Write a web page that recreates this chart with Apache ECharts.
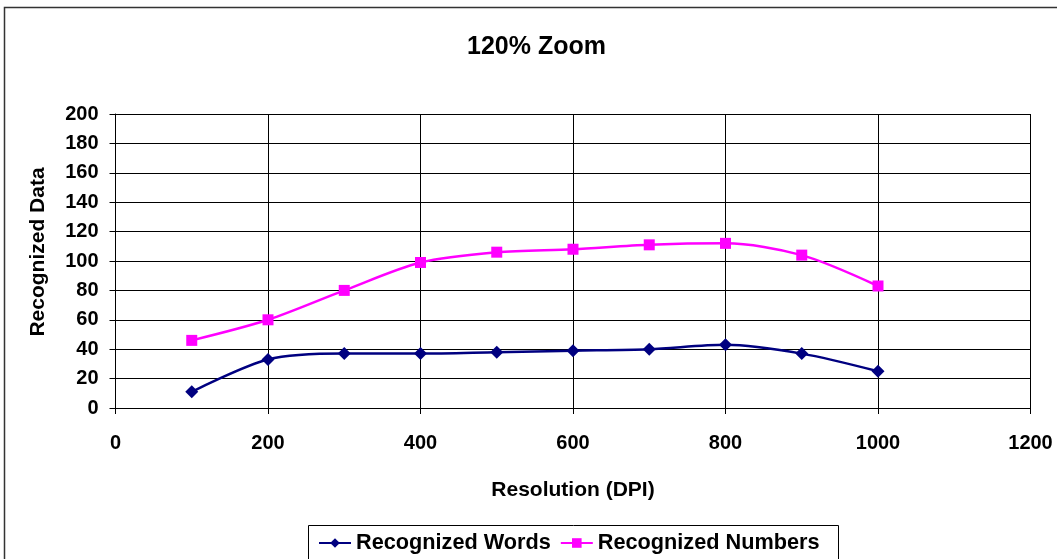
<!DOCTYPE html>
<html><head><meta charset="utf-8">
<script src="https://cdn.jsdelivr.net/npm/echarts@6/dist/echarts.min.js"></script>
<style>html,body{margin:0;padding:0;background:#fff}#c{width:1057px;height:559px}</style>
</head><body><div id="c"></div>
<script>
const resolutions = [100, 200, 300, 400, 500, 600, 700, 800, 900, 1000];
const recognizedWords = [11, 33, 37, 37, 38, 39, 40, 43, 37, 25];
const recognizedNumbers = [46, 60, 80, 99, 106, 108, 111, 112, 104, 83];
const FONT = '"Liberation Sans", Arial, sans-serif';

const chart = echarts.init(document.getElementById('c'), null, {renderer: 'canvas'});
chart.setOption({
  backgroundColor: '#fff',
  animation: false,
  title: {
    text: '120% Zoom', left: 467, top: 35, padding: 0,
    textStyle: {fontFamily: FONT, fontSize: 25, fontWeight: 'bold', color: '#000'}
  },
  graphic: [
    {type: 'rect', shape: {x: 4.5, y: 7.5, width: 1070, height: 570},
     style: {fill: null, stroke: '#333', lineWidth: 1.5}, silent: true, z: 0},
    {type: 'rect', shape: {x: 308.5, y: 525.5, width: 530, height: 50},
     style: {fill: '#fff', stroke: '#000', lineWidth: 1}, silent: true, z: 1}
  ],
  legend: {
    left: 318, top: 532, padding: 0, itemWidth: 32, itemHeight: 12, itemGap: 9,
    textStyle: {fontFamily: FONT, fontSize: 21.7, fontWeight: 'bold', color: '#000'},
    data: ['Recognized Words', 'Recognized Numbers'], z: 5
  },
  grid: {left: 115.5, right: 26.5, top: 114, bottom: 151, containLabel: false},
  xAxis: {
    type: 'value', min: 0, max: 1200, interval: 200,
    name: 'Resolution (DPI)', nameLocation: 'middle', nameGap: 72,
    nameTextStyle: {fontFamily: FONT, fontSize: 21, fontWeight: 'bold', color: '#000'},
    axisLine: {lineStyle: {color: '#000', width: 1}},
    axisTick: {show: true, length: 6, lineStyle: {color: '#000'}},
    axisLabel: {fontFamily: FONT, fontSize: 20, fontWeight: 'bold', color: '#000', margin: 25,
      formatter: v => String(v)},
    splitLine: {show: true, lineStyle: {color: '#000', width: 1}}
  },
  yAxis: {
    type: 'value', min: 0, max: 200, interval: 20,
    name: 'Recognized Data', nameLocation: 'middle', nameGap: 67, nameRotate: 90,
    nameTextStyle: {fontFamily: FONT, fontSize: 21, fontWeight: 'bold', color: '#000', padding: [0, 0, 0, 18]},
    axisLine: {show: true, lineStyle: {color: '#000', width: 1}},
    axisTick: {show: true, length: 6, lineStyle: {color: '#000'}},
    axisLabel: {fontFamily: FONT, fontSize: 20, fontWeight: 'bold', color: '#000', margin: 17},
    splitLine: {show: true, lineStyle: {color: '#000', width: 1}}
  },
  series: [
    {
      name: 'Recognized Words', type: 'line', smooth: 0.3,
      data: resolutions.map((r, i) => [r, recognizedWords[i]]),
      symbol: 'diamond', symbolSize: 13,
      lineStyle: {color: '#000080', width: 2.5},
      itemStyle: {color: '#000080'}, z: 3
    },
    {
      name: 'Recognized Numbers', type: 'line', smooth: 0.3,
      data: resolutions.map((r, i) => [r, recognizedNumbers[i]]),
      symbol: 'rect', symbolSize: 11,
      lineStyle: {color: '#FF00FF', width: 2.5},
      itemStyle: {color: '#FF00FF'}, z: 3
    }
  ]
});
</script></body></html>
